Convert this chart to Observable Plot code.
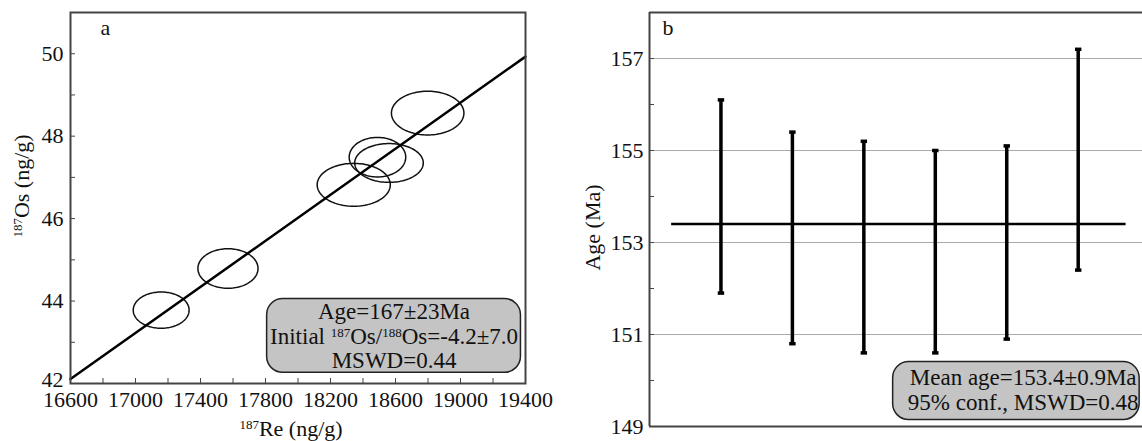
<!DOCTYPE html>
<html><head><meta charset="utf-8">
<script src="https://cdn.jsdelivr.net/npm/d3@7"></script>
<script src="https://cdn.jsdelivr.net/npm/@observablehq/plot@0.6"></script>
<style>
body{margin:0;background:#fff;}
#wrap{display:flex;width:1142px;height:441px;overflow:hidden;background:#fff;}
#wrap svg{display:block;flex:none;overflow:visible;}
#wrap svg text{font-family:"Liberation Serif","Times New Roman",serif;}
</style></head><body><div id="wrap"></div>
<script>
// ---- Panel a: Re–Os isochron ----
const reCenter     = [17158, 17569, 18343, 18489, 18560, 18798];
const reHalfWidth  = [172, 185, 225, 174, 211, 223];
const osCenter     = [43.78, 44.79, 46.82, 47.49, 47.35, 48.56];
const osHalfHeight = [0.44, 0.48, 0.52, 0.48, 0.47, 0.53];
const isochronRe   = [16600, 19400];
const isochronOs   = [42.11, 49.93];
const reTicks      = [16600, 17000, 17400, 17800, 18200, 18600, 19000, 19400];
const osTicks      = [44, 46, 48, 50];
const osTickBottom = [42];
const statsA       = ["Age=167±23Ma", "Initial ^{187}Os/^{188}Os=-4.2±7.0", "MSWD=0.44"];

// ---- Panel b: weighted mean age ----
const sampleIndex = [1, 2, 3, 4, 5, 6];
const ageLow      = [151.9, 150.8, 150.6, 150.6, 150.9, 152.4];
const ageHigh     = [156.1, 155.4, 155.2, 155.0, 155.1, 157.2];
const meanAge     = 153.4;
const ageTicks    = [149, 151, 153, 155, 157];
const statsB      = ["Mean age=153.4±0.9Ma", "95% conf., MSWD=0.48"];

const font = "Liberation Serif";
const ink = "#111";

const ellipsePts = reCenter.flatMap((cx, i) =>
  d3.range(0, 361, 3).map(a => ({
    i,
    x: cx + reHalfWidth[i] * Math.cos(a * Math.PI / 180),
    y: osCenter[i] + osHalfHeight[i] * Math.sin(a * Math.PI / 180)
  })));
const isoLine = isochronRe.map((x, k) => ({x, y: isochronOs[k]}));

const plotA = Plot.plot({
  width: 580, height: 441,
  marginLeft: 70, marginRight: 55, marginTop: 12, marginBottom: 58,
  x: {domain: [16600, 19400], axis: null},
  y: {domain: [42, 51], axis: null},
  style: {fontFamily: font, fontSize: "22px", color: ink, background: "white"},
  marks: [
    Plot.axisX({ticks: d3.range(16600, 19401, 200), tickSize: 5, dy: -5, tickFormat: () => "", label: null, stroke: "#444"}),
    Plot.axisX({ticks: reTicks, tickSize: 0, tickPadding: 8, tickFormat: d => String(d), label: null, fontFamily: font}),
    Plot.axisY({ticks: d3.range(42, 51.01, 1), tickSize: 5, dx: 5, tickFormat: () => "", label: null, stroke: "#444"}),
    Plot.axisY({ticks: osTicks, tickSize: 0, tickPadding: 7, tickFormat: d => String(d), label: null, fontFamily: font}),
    Plot.axisY({ticks: osTickBottom, tickSize: 0, tickPadding: 7, dy: -4, tickFormat: d => String(d), label: null, fontFamily: font}),
    Plot.line(ellipsePts, {x: "x", y: "y", z: "i", stroke: "#111", strokeWidth: 1.5}),
    Plot.line(isoLine, {x: "x", y: "y", stroke: "#000", strokeWidth: 2.5}),
    Plot.rect([0], {x1: 17810, x2: 19372, y1: 42.26, y2: 44.05, rx: 16, fill: "#c4c4c4", stroke: "#222", strokeWidth: 1.5}),
    Plot.text([statsA.join("\n")], {x: 18591, y: 43.155, lineHeight: 1.07, lineAnchor: "middle", fill: ink, fontFamily: font, fontSize: 23}),
    Plot.text(["a"], {frameAnchor: "top-left", dx: 30, dy: 15, lineAnchor: "middle", fontFamily: font}),
    Plot.text(["^{187}Re (ng/g)"], {frameAnchor: "bottom", dx: -7, dy: 45, textAnchor: "middle", lineAnchor: "middle", fontFamily: font}),
    Plot.text(["^{187}Os (ng/g)"], {frameAnchor: "left", dx: -49, dy: -12, rotate: -90, textAnchor: "middle", lineAnchor: "middle", fontFamily: font}),
    Plot.frame({stroke: "#444", strokeWidth: 2})
  ]
});

const bars = sampleIndex.map((i, k) => ({i, lo: ageLow[k], hi: ageHigh[k]}));
const plotB = Plot.plot({
  width: 562, height: 441,
  marginLeft: 69, marginRight: 0, marginTop: 12, marginBottom: 15,
  x: {domain: [0, 6.9], axis: null},
  y: {domain: [149, 158], axis: null},
  style: {fontFamily: font, fontSize: "22px", color: ink, background: "white", overflow: "visible"},
  marks: [
    Plot.ruleY([151, 153, 155, 157], {stroke: "#aaa", strokeWidth: 1.2}),
    Plot.axisY({ticks: d3.range(149, 158.01, 1), tickSize: 5, dx: 5, tickFormat: () => "", label: null, stroke: "#444"}),
    Plot.axisY({ticks: ageTicks, tickSize: 0, tickPadding: 6, tickFormat: d => String(d), label: null, fontFamily: font}),
    Plot.ruleY([meanAge], {x1: 0.31, x2: 6.67, stroke: "#000", strokeWidth: 2.5}),
    Plot.ruleX(bars, {x: "i", y1: "lo", y2: "hi", stroke: "#000", strokeWidth: 3.5}),
    Plot.link(bars, {x1: d => d.i - 0.045, x2: d => d.i + 0.045, y1: "hi", y2: "hi", stroke: "#000", strokeWidth: 3.5}),
    Plot.link(bars, {x1: d => d.i - 0.045, x2: d => d.i + 0.045, y1: "lo", y2: "lo", stroke: "#000", strokeWidth: 3.5}),
    Plot.rect([0], {x1: 3.41, x2: 6.86, y1: 149.14, y2: 150.4, rx: 16, fill: "#c4c4c4", stroke: "#222", strokeWidth: 1.5}),
    Plot.text([statsB.join("\n")], {x: 5.23, y: 149.8, lineHeight: 1.07, lineAnchor: "middle", fill: ink, fontFamily: font, fontSize: 23}),
    Plot.text(["b"], {frameAnchor: "top-left", dx: 13, dy: 15, lineAnchor: "middle", fontFamily: font}),
    Plot.text(["Age (Ma)"], {frameAnchor: "left", dx: -57, dy: 8, rotate: -90, textAnchor: "middle", lineAnchor: "middle", fontFamily: font}),
    Plot.ruleY([149, 158], {stroke: "#444", strokeWidth: 2}),
    Plot.ruleX([0], {stroke: "#444", strokeWidth: 2})
  ]
});

function supify(root) {
  root.querySelectorAll("text, tspan").forEach(el => {
    if (el.children.length) return;
    const s = el.textContent;
    if (!s.includes("^{")) return;
    el.textContent = "";
    const re = /\^\{([^}]*)\}/g;
    let last = 0, m;
    const ns = "http://www.w3.org/2000/svg";
    while ((m = re.exec(s))) {
      if (m.index > last) {
        const t = document.createElementNS(ns, "tspan");
        t.textContent = s.slice(last, m.index);
        el.appendChild(t);
      }
      const sup = document.createElementNS(ns, "tspan");
      sup.setAttribute("font-size", "13px");
      sup.setAttribute("baseline-shift", "7px");
      sup.textContent = m[1];
      el.appendChild(sup);
      last = re.lastIndex;
    }
    if (last < s.length) {
      const t = document.createElementNS(ns, "tspan");
      t.textContent = s.slice(last);
      el.appendChild(t);
    }
  });
}
supify(plotA);
supify(plotB);
for (const p of [plotA, plotB]) p.querySelectorAll("text").forEach(t => t.setAttribute("font-family", "Liberation Serif, serif"));
document.getElementById("wrap").append(plotA, plotB);
</script>
</body></html>
